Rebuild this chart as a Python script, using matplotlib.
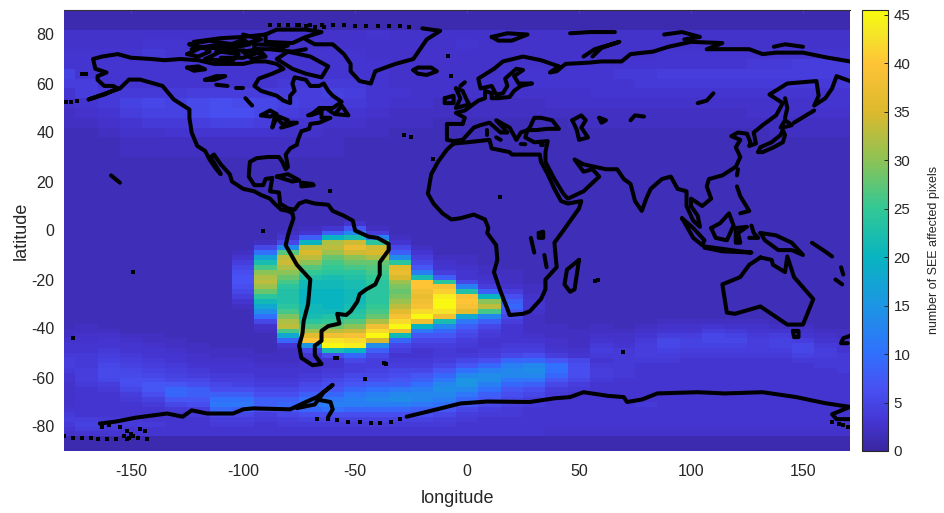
import numpy as np
import matplotlib
matplotlib.use('Agg')
import matplotlib.pyplot as plt
from matplotlib.colors import LinearSegmentedColormap

plt.rcParams['font.family'] = ['Liberation Sans', 'DejaVu Sans']
plt.rcParams['axes.unicode_minus'] = False

# longitude bin centres
lons = list(range(-180, 180, 10))

# north rows, edges in lat_edges_north
lat_edges_north = [90, 82, 78, 74, 70, 66, 62, 58, 54, 50, 46, 42, 38, 30, 18, 6]
north_cols = [
 [1,2.5,2.5,3,3,4.5,4,3,2.5,2,2,1.5,1.5,1.5,1.5],
 [1,2.5,2.5,3,3,3,4,4,3,2.5,2,1.5,1.5,1.5,1.5],
 [1,2.5,2.5,3,3,3,3,3.5,3.5,3,2.5,2,1.5,1.5,1.5],
 [1,2.5,2.5,3,3,3,3,3.5,4.5,4,3,2.5,2,1.5,1.5],
 [1,2.5,3,3.5,3,3,3,3.5,5,4.5,3.5,2.5,2,1.5,1.5],
 [1,2.5,3,3,3,3,3,3.5,4.5,4.5,3.5,3,2,1.5,1.5],
 [1,2.5,2.5,3,3,3,3,4,5.5,5.5,4,3,2,1.5,1.5],
 [1,2.5,2.5,3,3,3,3,4,6,6,4.5,3,2,1.5,1.5],
 [1,2.5,2.5,3,3,3,3,4,5.5,6,4.5,3,2,1.5,1.5],
 [1,2.5,2.5,3,3,3,3,4,5,5,4,3,2,1.5,1.5],
 [1,2.5,2.5,3,3,3,3.5,4,4.5,4,3,2.5,2,1.5,1.5],
 [1,2.5,2.5,3,3,3,3.5,4,4,3.5,3,2.5,2,1.5,1.5],
 [1,2.5,2.5,3,3,3,3.5,4.5,4,3,2.5,2,2,1.5,1.5],
 [1,2.5,2.5,3,3,3,3.5,4,3.5,3,2.5,2,1.5,1.5,1.5],
 [1,3,2.5,2.5,3,3,3,3,3,2.5,2,2,1.5,1.5,1.5],
 [1,2.5,2.5,2.5,2.5,2.5,2.5,3,2.5,2,2,1.5,1.5,1.5,1.5],
 [1,2.5,2.5,2.5,2.5,2.5,2.5,2.5,2.5,2,2,1.5,1.5,1.5,1.5],
 [1,2.5,2.5,2.5,2.5,2.5,2.5,2.5,2,2,1.5,1.5,1.5,1.5,1.5],
 [1,2.5,3,2.5,2.5,2.5,2.5,2.5,2,2,1.5,1.5,1.5,1.5,1.5],
 [1,2.5,2.5,2.5,2.5,2.5,2.5,2.5,2,2,1.5,1.5,1.5,1.5,1.5],
 [1,2.5,2.5,2.5,2.5,3,2.5,2.5,2,2,1.5,1.5,1.5,1.5,1.5],
 [1,2.5,2.5,2.5,2.5,3,3,2.5,2,2,1.5,1.5,1.5,1.5,1.5],
 [1,2.5,2.5,2.5,2.5,3,3,2.5,2.5,2,1.5,1.5,1.5,1.5,1.5],
 [1,2.5,2.5,2.5,3,3,3,2.5,2.5,2,2,1.5,1.5,1.5,1.5],
 [1,2.5,2.5,2.5,3,3,3,3,2.5,2,2,1.5,1.5,1.5,1.5],
 [1,2.5,2.5,2.5,3,3.5,3,3,2.5,2,2,1.5,1.5,1.5,1.5],
 [1,2.5,2.5,2.5,3,3.5,3.5,3,2.5,2,2,1.5,1.5,1.5,1.5],
 [1,2.5,2.5,3,3,4,3.5,3,2.5,2,2,1.5,1.5,1.5,1.5],
 [1,2.5,2.5,3,3,4,3.5,3,2.5,2,2,1.5,1.5,1.5,1.5],
 [1,2.5,2.5,3,3,4,3.5,3,2.5,2,2,1.5,1.5,1.5,1.5],
 [1,2.5,2.5,3,3,4,3.5,3,2.5,2,2,1.5,1.5,1.5,1.5],
 [1,2.5,2.5,3,3.5,4,3.5,3,2.5,2.5,2,1.5,1.5,1.5,1.5],
 [1,2.5,2.5,3,3.5,4,3.5,3,2.5,2.5,2,2,1.5,1.5,1.5],
 [1,2.5,2.5,3,4,4,3.5,3,2.5,2.5,2,2,1.5,1.5,1.5],
 [1,2.5,2.5,3,4,4,3.5,3,3,2.5,2,2,1.5,1.5,1.5],
 [1,2.5,2.5,3,4,4,3.5,3,3,2.5,2,2,1.5,1.5,1.5],
]

# south rows: 2 degree bins from lat 6 down to -84, one line per longitude
south_cols = [
 [1.5,1.5,1.5,1.5,1.5, 1.5,1.5,1.5,1.5,1.5, 1.5,1.5,1.5,1.5,1.5, 1.5,1.5,1.5,1.5,1.5, 1.5,1.5,1.5,2,2, 2.5,3,3,3.5,4, 4,3.5,3,3,2.5, 2.5,2.5,2.5,2.5,3, 3.5,4,3.5,3,2.5],
 [1.5,1.5,1.5,1.5,1.5, 1.5,1.5,1.5,1.5,1.5, 1.5,1.5,1.5,1.5,1.5, 1.5,1.5,1.5,1.5,1.5, 1.5,1.5,2,2,2.5, 2.5,3,3,3.5,3.5, 3.5,4,4,4,3.5, 3,3,3,3,3, 3,4,4.5,4,3],
 [1.5,1.5,1.5,1.5,1.5, 1.5,1.5,1.5,1.5,1.5, 1.5,1.5,1.5,1.5,1.5, 1.5,1.5,1.5,1.5,1.5, 1.5,1.5,1.5,2,2.5, 3,3,3.5,4,4.5, 5,5.5,5.5,5,4, 3.5,3,3,3,3, 3,3.5,4,3.5,3],
 [1.5,1.5,1.5,1.5,1.5, 1.5,1.5,1.5,1.5,1.5, 1.5,1.5,1.5,1.5,1.5, 1.5,1.5,1.5,1.5,1.5, 1.5,1.5,1.5,1.5,2, 2.5,3,3,3.5,4, 4.5,5,5.5,6,6, 5,4,3.5,3,3, 3,3.5,3.5,3,3],
 [1.5,1.5,1.5,1.5,1.5, 1.5,1.5,1.5,1.5,1.5, 1.5,1.5,1.5,1.5,1.5, 1.5,1.5,1.5,1.5,1.5, 1.5,1.5,1.5,1.5,2, 2,2.5,3,3,3.5, 4,4.5,5,6,7, 7,6,4.5,3.5,3, 3,3,3.5,3,3],
 [1.5,1.5,1.5,1.5,1.5, 1.5,1.5,1.5,1.5,1.5, 1.5,1.5,1.5,1.5,1.5, 1.5,1.5,1.5,1.5,1.5, 1.5,1.5,1.5,1.5,1.5, 2,2,2.5,3,3, 3.5,4,4.5,5,7, 9,9,7,5,3.5, 3,3,3,3,3],
 [1.5,1.5,1.5,1.5,1.5, 1.5,1.5,1.5,1.5,1.5, 1.5,1.5,1.5,1.5,1.5, 1.5,1.5,1.5,1.5,1.5, 1.5,1.5,1.5,1.5,1.5, 1.5,2,2,2.5,2.5, 3,3.5,4,5,6, 8,8,7,6,4, 3.5,3,3,3,3],
 [1.5,1.5,1.5,1.5,1.5, 1.5,1.5,1.5,1.5,1.5, 1.5,1.5,1.5,1.5,1.5, 1.5,1.5,1.5,1.5,1.5, 1.5,1.5,1.5,1.5,1.5, 1.5,1.5,2,2,2.5, 3,3,3.5,4,5, 6,8,10,11,9, 5,4,3.5,3,3],
 [1.5,1.5,1.5,1.5,1.5, 1.5,1.5,2,3,4, 5,6,6.5,6.5,6, 5,4,3,2,1.5, 1.5,1.5,1.5,1.5,1.5, 1.5,1.5,2,2,2.5, 3,3,3.5,4,4.5, 6,8,10,11,8, 5,4,3.5,3,3],
 [1.5,1.5,1.5,1.5,1.5, 2,5,10,17,22, 26,30,32,33,31, 28,24,21,18,14, 10,5,2.5,2,1.5, 1.5,1.5,1.5,2,2, 2.5,3,3,3.5,4, 5,6,8,8,6, 4,3.5,3,3,3],
 [1.5,1.5,1.5,2,3, 5,14,27,33,34, 32,30,28,26,24, 23,23,23,24,26, 29,32,33,26,18, 9,3,2,2,2, 2.5,3,3,3.5,4, 5,6,8,9,7, 5,4,3.5,3,3],
 [1.5,1.5,2,3,8, 20,33,35,33,30, 27,25,23,21,21, 20,20,20,21,21, 22,24,27,31,36, 40,15,5,3,2.5, 3,3,3.5,4,5, 6,8,10,11,9, 6,4.5,3.5,3,3],
 [1.5,1.5,3,8,20, 32,33,31,28,26, 25,24,22,21,21, 20,20,20,20,21, 23,25,28,33,38, 43,45,22,6,3, 3,3.5,4,5,6, 7,9,11,12,10, 6,4.5,3.5,3,3],
 [1.5,3,7,13,22, 34,37,34,30,28, 26,24,23,22,22, 21,21,21,22,23, 24,27,30,34,39, 42,44,20,9,5, 4,4,5,6,7, 9,11,12,12,9, 6,4.5,3.5,3,3],
 [1.5,1.5,2,4,12, 24,34,35,32,28, 27,26,25,24,24, 24,24,24,25,26, 28,32,38,42,45, 35,14,8,5,4, 4,4.5,5,6,8, 10,12,13,12,9, 6,4.5,3.5,3,3],
 [1.5,1.5,1.5,1.5,2, 3,5,8,14,24, 36,37,35,31,29, 28,29,31,33,36, 39,42,45,38,21, 9,5,4,3,3.5, 4,5,6,7,8, 11,13,14,12,9, 6,4.5,3.5,3,3],
 [1.5,1.5,1.5,1.5,1.5, 1.5,2,3,4,5, 7,12,22,40,40, 38,37,38,39,42, 45,38,20,11,7, 5,4,3,3,3.5, 4,5,7,8,10, 12,13,13,11,8, 6,4.5,3.5,3,3],
 [1.5,1.5,1.5,1.5,1.5, 1.5,1.5,1.5,2,2.5, 3,4,8,24,39, 41,44,45,45,43, 38,22,13,9,7, 5,4,3.5,3.5,4, 5,7,9,11,13, 14,13,12,10,7, 5,4,3.5,3,3],
 [1.5,1.5,1.5,1.5,1.5, 1.5,1.5,1.5,2,2, 2.5,3,3,5,12, 23,39,40,39,36, 18,11,8,6,5, 4,3.5,3,3.5,5, 7,10,13,15,15, 13,11,9,7,5, 4,3.5,3,3,3],
 [1.5,1.5,1.5,1.5,1.5, 1.5,1.5,1.5,1.5,1.5, 2,2,2.5,3,4, 8,20,30,33,26, 13,8,5,4,3.5, 3,3,3.5,4,6, 9,12,14,14,12, 10,8,7,5,4, 3.5,3,3,3,3],
 [1.5,1.5,1.5,1.5,1.5, 1.5,1.5,1.5,1.5,1.5, 1.5,2,2,2,2.5, 4,6,8,9,7, 5,4,3,3,3, 3,3.5,4,5,9, 12,13,13,11,9, 7,6,5,4,3.5, 3.5,3,3,3,3],
 [1.5,1.5,1.5,1.5,1.5, 1.5,1.5,1.5,1.5,1.5, 1.5,1.5,1.5,1.5,2, 2,2.5,3,3,2.5, 2,2,2,2,2.5, 3,3.5,4,6,9, 13,14,13,11,8, 6,5,4,3.5,3, 3,3,3,3,3],
 [1.5,1.5,1.5,1.5,1.5, 1.5,1.5,1.5,1.5,1.5, 1.5,1.5,1.5,1.5,1.5, 1.5,1.5,1.5,1.5,1.5, 1.5,1.5,2,2,2, 2.5,2.5,3,4,7, 10,10,9,7,5, 4,3.5,3,3,3, 3,3,3,2.5,2.5],
 [1.5,1.5,1.5,1.5,1.5, 1.5,1.5,1.5,1.5,1.5, 1.5,1.5,1.5,1.5,1.5, 1.5,1.5,1.5,1.5,1.5, 1.5,1.5,1.5,2,2, 2,2,2.5,3,5, 6,6,6,5,4, 3.5,3,3,3,3, 3,3,3,2.5,2.5],
 [1.5,1.5,1.5,1.5,1.5, 1.5,1.5,1.5,1.5,1.5, 1.5,1.5,1.5,1.5,1.5, 1.5,1.5,1.5,1.5,1.5, 1.5,1.5,2,2,2.5, 3,3.5,4,3.5,3, 3.5,4,4,3.5,3, 3,3,3,3,3, 3,3,3,2.5,2.5],
 [1.5,1.5,1.5,1.5,1.5, 1.5,1.5,1.5,1.5,1.5, 1.5,1.5,1.5,1.5,1.5, 1.5,1.5,1.5,1.5,1.5, 1.5,1.5,1.5,2,2.5, 2.5,3,3.5,3.5,3.5, 3.5,3.5,3.5,3,3, 3,3,3,3,3, 3,3,3,2.5,2.5],
 [1.5,1.5,1.5,1.5,1.5, 1.5,1.5,1.5,1.5,1.5, 1.5,1.5,1.5,1.5,1.5, 1.5,1.5,1.5,1.5,1.5, 1.5,1.5,2,2.5,3, 3.5,4,4,4,3.5, 3,3,3,3,3, 3,3,3,3.5,3, 3,3,3,2.5,2.5],
 [1.5,1.5,1.5,1.5,1.5, 1.5,1.5,1.5,1.5,1.5, 1.5,1.5,1.5,1.5,1.5, 1.5,1.5,1.5,1.5,1.5, 1.5,2,2.5,3,4, 5,5,4.5,4,3.5, 3,3,3,3,3, 3,3,3,3,3, 3,3,3,2.5,2.5],
 [1.5,1.5,1.5,1.5,1.5, 1.5,1.5,1.5,1.5,1.5, 1.5,1.5,1.5,1.5,1.5, 1.5,1.5,1.5,1.5,1.5, 1.5,2,2.5,3,4, 4.5,4.5,4,3.5,3, 3,3,3,3,3, 3,3,3,3,3, 3,3,3,2.5,2.5],
 [1.5,1.5,1.5,1.5,1.5, 1.5,1.5,1.5,1.5,1.5, 1.5,1.5,1.5,1.5,1.5, 1.5,1.5,1.5,1.5,1.5, 1.5,2,3,4,5, 5,4.5,4,3.5,3, 3,3,3,3,3, 3,3,3,3,3, 3,3,3,2.5,2.5],
 [1.5,1.5,1.5,1.5,1.5, 1.5,1.5,1.5,1.5,1.5, 1.5,1.5,1.5,1.5,1.5, 1.5,1.5,1.5,1.5,1.5, 1.5,2,2.5,3.5,4.5, 5,4.5,4,3.5,3, 3,3,3,3,3, 3,3,3,3,3, 3,3,3,2.5,2.5],
 [1.5,1.5,1.5,1.5,1.5, 1.5,1.5,1.5,1.5,1.5, 1.5,1.5,1.5,1.5,1.5, 1.5,1.5,1.5,1.5,1.5, 1.5,2,2.5,3,3.5, 4,4,4,3.5,3, 3,3,3,3,3, 3,3,3,3,3, 3,3,3,2.5,2.5],
 [1.5,1.5,1.5,1.5,1.5, 1.5,1.5,1.5,1.5,1.5, 1.5,1.5,1.5,1.5,1.5, 1.5,1.5,1.5,1.5,1.5, 1.5,1.5,2,3,4, 4.5,4.5,4,3.5,3, 3,3,3,3,3, 3,3,3,3,3, 3,3,3,2.5,2.5],
 [1.5,1.5,1.5,1.5,1.5, 1.5,1.5,1.5,1.5,1.5, 1.5,1.5,1.5,1.5,1.5, 1.5,1.5,1.5,1.5,1.5, 1.5,1.5,2,2.5,3, 4,5,5,4.5,3.5, 3,3,3,3,3, 3,3,3,3,3, 3,3,3,2.5,2.5],
 [1.5,1.5,1.5,1.5,1.5, 1.5,1.5,1.5,1.5,1.5, 1.5,1.5,1.5,1.5,1.5, 1.5,1.5,1.5,1.5,1.5, 1.5,1.5,1.5,2,2.5, 3,3.5,4,4,3.5, 3.5,3,3,3,3, 3,3,3,3,3, 3,3,3,2.5,2.5],
 [1.5,1.5,1.5,1.5,1.5, 1.5,1.5,1.5,1.5,1.5, 1.5,1.5,1.5,1.5,1.5, 1.5,1.5,1.5,1.5,1.5, 1.5,1.5,1.5,2,2, 2.5,3,3,3.5,3.5, 3.5,3.5,3,3,3, 3,3,3,3,3, 3,3,3,2.5,2.5],
]

# coastlines as lon/lat pairs
americas = [(-169,53.5),(-162,55.5),(-156,58),(-158,59),(-162,59),(-165,61.5),(-165,63),(-161,64.5),(-166,66),(-167,70),(-163,71),(-156,72),(-150,70.5),(-141,70),(-135,69.5),(-128,70),(-120,69.5),(-113,68),(-108,68),(-100,68),(-95,69),(-90,69),(-85,68),(-82,66),(-87,64),(-93,62),(-95,59),(-92,57),(-85,55),(-82,53),(-79,52),(-79,55),(-77,57),(-78,60),(-77,62.5),(-72,61.5),(-70,59),(-66,59),(-64,60),(-62,57),(-60,55),(-56,52.5),(-60,50),(-66,50),(-70,47),(-65,48.5),(-65,46),(-61,46),(-66,44),(-70,43.5),(-70.5,41.5),(-74,40.5),(-75.5,37),(-76,35),(-79,33.5),(-81,31),(-80,26),(-81,25),(-82.5,28),(-84,30),(-89,30),(-94,29.5),(-97,28),(-97.5,22),(-95,18.5),(-91,18.5),(-90,21),(-87,21.5),(-88,16),(-84,15.5),(-83.5,11),(-80,9),(-77,8.5),(-75,11),(-72,12),(-68,11),(-62,10.5),(-60,8),(-55,6),(-51,4),(-50,0),(-44,-2.5),(-40,-3),(-35,-5.5),(-35,-8),(-39,-13),(-39,-18),(-41,-22),(-45,-24),(-48,-26),(-49,-29),(-52,-33),(-54,-34.5),(-58,-34),(-57,-38),(-62,-39),(-65,-41),(-65,-45),(-68,-47),(-68,-51),(-65,-54.5),(-69,-55),(-74,-52),(-75,-47),(-73.5,-42),(-73,-37),(-71,-30),(-70,-20),(-76,-14),(-81,-6),(-80,-2),(-79,1),(-77.5,5),(-78,7),(-80,8),(-83,8.5),(-86,11),(-88,13),(-92,14.5),(-95,16),(-100,17),(-105,20),(-106,23),(-110,27),(-113,31),(-114.5,30),(-110,23),(-112,25),(-115,29),(-117,32.5),(-120.5,34.5),(-123,40),(-124,46),(-124,49.4),(-131,53.5),(-136,59),(-146,61.6),(-151,61.6),(-155,58),(-169,53.5)]
greenland = [(-72,78),(-68,76),(-60,76),(-55,72),(-52,68),(-52,65),(-48,61),(-43,60),(-41,65),(-32,68),(-24,70),(-21,74),(-18,78),(-12,81.5),(-20,82.5)]
iceland = [(-24,65.5),(-22,66.5),(-16,66.5),(-13.5,65),(-18,63.5),(-22,64),(-24,65.5)]
baffin = [(-80,73),(-70,71),(-62,67),(-65,62.5),(-72,64),(-78,66),(-85,70),(-80,73)]
banks = [(-125,72),(-118,75),(-115,73),(-120,71),(-125,72)]
victoria = [(-117,70),(-105,69),(-102,72),(-110,73),(-117,70)]
ellesmere = [(-90,80),(-85,82),(-72,82),(-65,81),(-72,79),(-78,76.5),(-90,77),(-90,80)]
devon = [(-95,76),(-80,75.5),(-85,74),(-95,74),(-95,76)]
parry = [(-124,76),(-115,77.5),(-105,76),(-100,78),(-97,76),(-105,74.5),(-118,74.5),(-124,76)]
somerset = [(-100,73),(-93,74),(-90,71),(-96,70),(-100,73)]
arctic_a = [(-123,74),(-110,76),(-98,76.5),(-92,78),(-100,80)]
arctic_b = [(-122,77),(-110,78.5),(-100,79),(-90,80)]
arctic_c = [(-112,73),(-100,73.5),(-92,72)]
arctic_d = [(-88,74),(-78,73),(-72,74)]
arctic_e = [(-110,70.5),(-100,70.5),(-95,72)]
bear_lake = [(-125,66.5),(-120,67),(-117,65.8),(-122,65.2),(-125,66.5)]
slave_lake = [(-117,61.5),(-112,63),(-108,63),(-113,61.5),(-117,61.5)]
athabasca = [(-112,59.5),(-107,59)]
reindeer = [(-103,58),(-100,58)]
winnipeg = [(-99,54),(-97,52),(-96,51)]
superior = [(-92,47),(-88,49),(-85,47.5),(-88,46.5),(-92,47)]
michigan = [(-86,46),(-87,42),(-86,44),(-85,46)]
huron = [(-84,46.5),(-80,45),(-82,43),(-84,45)]
erie = [(-83,42),(-79,43),(-76,44),(-79,44)]
newfoundland = [(-59,47.5),(-56,51),(-53,47),(-59,47.5)]
gulf_land = [(-71,47),(-63,50),(-60,48)]
cuba = [(-85,22),(-80,23),(-75,20.5),(-78,20),(-85,22)]
hispaniola = [(-74,19.5),(-69,19),(-68.5,18.5),(-74,18),(-74,19.5)]
hawaii = [(-159,22.5),(-157,21),(-155,19.5)]
africa = [(-6,35.5),(-9,33),(-13,28),(-16,23),(-17.5,15),(-15,11),(-11,7),(-7,4.5),(-3,5),(3,6.5),(8,4.5),(9.5,1),(9,-1),(13,-6),(13.5,-12),(12,-17),(15,-25),(18,-32),(19,-34.5),(25,-34),(28,-33),(33,-28),(35,-24),(35,-20),(40,-15),(39,-5),(43,0),(50,9),(51,12),(45,11),(42,12),(39,17),(36,23),(33,28),(32.5,31),(28,31),(20,31),(19,32),(11,33.5),(10,37),(0,36),(-6,35.5)]
eurasia = [(-2,43.5),(-9,43.5),(-9,37),(-6,36.5),(-2,37),(0,39),(3,42),(6,43),(10,44),(15,40),(18,40),(16,42),(13,45),(19,42),(22,37),(24,40),(27,41),(26,38),(30,36),(36,36.5),(35,32),(35,28),(39,21),(43,15),(45,13),(52,16),(59,22),(56,25),(52,24),(48,29),(52,27),(57,26),(62,25),(67,25),(70,21),(73,19),(75,12),(78,8),(80,13),(82,17),(87,21),(91,22),(94,17),(98,16),(98,10),(101,4),(104,1.5),(103,6),(100,10),(100,13),(105,10),(109,13),(107,18),(108,21),(114,22.5),(120,26),(122,30),(120,34),(122,37),(118,38.5),(121,40),(125,39.5),(126.5,36),(126,34.5),(129,35.5),(128,40),(132,43),(138,47),(141,52),(135,55.5),(143,60),(156,61),(157,55),(155,51),(160,54),(163,58),(165,63),(171,61)]
europe_north = [(-2,43.5),(-1,46),(-5,48),(-1,49),(2,51),(5,53),(8,54),(8,57),(11,56),(11,54),(14,54),(19,54.5),(21,57),(24,59),(29,60),(23,60),(21,63),(25,65.5),(22,66),(17,62),(18,59),(16,56),(13,55.5),(11,59),(6,58),(5,62),(12,66),(16,69),(25,71),(33,69.5),(41,67),(37,64.5),(40,65),(44,68),(54,68.5),(60,69),(69,69),(73,72),(83,73),(90,75),(100,77),(114,76.5),(107,74),(126,74),(132,72),(138,72.6),(150,72.6),(160.7,70.6),(171,69)]
black_sea = [(27,41),(31,41),(36,41.5),(41,41.5),(38,45),(33,46),(30,46),(28,42),(27,41)]
caspian = [(47,45),(51,47),(53,45),(51,42),(54,38),(50,37),(49,41),(47,45)]
aral = [(59,46),(62,45),(60,44),(59,46)]
balkhash = [(73,45),(75,47),(79,46.5)]
baikal = [(103,52),(107,53),(110,56)]
uk = [(-5,58),(-2,57),(0,53),(1,51.5),(-5,50),(-3,54),(-5,58)]
ireland = [(-10,54),(-6,55),(-6,52),(-10,52),(-10,54)]
shetland = [(-3,59),(-1,60.5)]
sardinia = [(9,41),(9,39)]
sicily = [(13,38),(15,37)]
crete = [(24,35.3),(26,35.2)]
cyprus = [(33,35),(34,35)]
svalbard = [(11,79),(18,80.5),(27,80),(20,77.5),(14,77.5),(11,79)]
novaya = [(52,71),(57,74),(68,77),(60,74.5),(56,71)]
franz = [(46,80.5),(55,81),(66,81)]
sev_zemlya = [(88,80),(96,81),(104,79),(97,78)]
new_sib = [(137,75),(142,76),(150,75)]
madagascar = [(50,-12),(44.6,-16),(43.5,-22),(46,-25),(48,-24),(50,-12)]
japan = [(130,32),(131,34),(136,36),(140,39),(141,41),(142,39),(141,36),(137,34),(132,32),(130,32)]
hokkaido = [(140,42),(142,45),(145,43),(141,42)]
sakhalin = [(142,54),(143,50),(142,46)]
kuril = [(146,44),(155,49)]
philippines = [(120.5,18),(122,14),(124,11),(126,8),(122,7)]
taiwan = [(121,25),(120.5,22.5)]
sumatra = [(96,5),(101,1),(106,-4),(105,-6),(101,-3),(96,5)]
java = [(106,-6.5),(114,-7.5),(122,-8.5),(127,-9),(114,-8.5),(106,-7)]
borneo = [(109,1),(113,3),(117,7),(119,2),(116,-4),(111,-3),(109,1)]
sulawesi = [(120,1),(125,1.5),(121,-1),(122,-5),(120,-5),(120,1)]
moluccas = [(127,2),(128,-1),(130,-3),(126,-3)]
new_guinea = [(131,-1),(138,-2),(145,-5),(150,-10),(145,-8),(139,-8),(133,-4),(131,-1)]
solomon = [(154,-5),(159,-8),(163,-10.6)]
vanuatu = [(167,-15),(168,-18)]
new_cal = [(164.5,-20),(167.5,-22)]
nz = [(171,-43),(168,-44),(167,-46),(170,-46)]
australia = [(131,-11),(126,-14),(122,-19),(114,-22),(116,-33.5),(119.6,-34),(131,-31),(137.5,-35),(143,-38.4),(150,-38.4),(154.6,-28),(146,-19),(143,-10.6),(142,-17),(136.6,-14),(136,-12),(131,-11)]
tasmania = [(145.5,-41),(148,-41),(148,-43.5),(146,-43.5),(145.5,-41)]
lake_victoria = [(32,-1),(34,-0.5),(34,-3),(32,-3),(32,-1)]
tanganyika = [(28.5,-3),(30,-9)]
malawi = [(34.5,-10),(35.5,-15)]
antarctica_west = [(-164,-78.8),(-157,-78),(-148,-76.4),(-134,-74.7),(-127,-76),(-123,-73.4),(-116,-74.7),(-104.5,-74.7),(-100,-73),(-95.5,-72.6),(-79,-73),(-72,-70),(-67,-68),(-60,-63),(-64,-66),(-68,-71),(-76,-72.5)]
antarctica_ronne = [(-67,-69),(-61,-70),(-60,-73),(-62,-76)]
antarctica_east = [(-27,-76),(-13.5,-73),(-3,-70.6),(9,-69.8),(28,-70),(39,-68.5),(46,-68),(52,-66),(63,-67.5),(70,-68),(71.4,-70),(78,-69),(85,-66.5),(103,-66),(115,-66.5),(132,-66),(147,-68),(160,-70.5),(171,-72)]
ross_west = [(171,-72),(163,-75),(165,-77),(171,-77)]
coast_lines = [americas, greenland, iceland, baffin, banks, victoria, ellesmere, devon, parry, somerset,
               arctic_a, arctic_b, arctic_c, arctic_d, arctic_e,
               bear_lake, slave_lake, athabasca, reindeer, winnipeg, superior, michigan, huron, erie,
               newfoundland, gulf_land, cuba, hispaniola, hawaii, africa, eurasia, europe_north, black_sea,
               caspian, aral, balkhash, baikal, uk, ireland, shetland, sardinia, sicily, crete, cyprus,
               svalbard, novaya, franz, sev_zemlya, new_sib,
               madagascar, japan, hokkaido, sakhalin, kuril, philippines, taiwan, sumatra, java, borneo,
               sulawesi, moluccas, new_guinea, solomon, vanuatu, new_cal, nz, australia, tasmania, lake_victoria,
               tanganyika, malawi, antarctica_west, antarctica_ronne, antarctica_east, ross_west]

# sparse coastal points, small islands and the dotted polar stretches
dots_lon = [-179,-177,-174,-172,-170,-91,-149,-176,-59,-58,-37,-36,-45.6,-28,-25,-15,-61,-8.5,-7,14.7,69.6,57,58.5,
            -180,-176,-172,-168,-165,-161,-157,-152,-147,-143,-67,-62,-58,-53,-48,-43,-39,-34,-30,
            -163,-160,-155,-152,-150,-146,-144,-153,-151,-149,
            -88,-84,-80,-76,-72,-68,-64,-75,-70,-65,-60,-55,-50,-45,-40,-35,-30,-26,
            163,166,168,170]
dots_lat = [52.6,52.6,53,64,64,-0.4,-17,-43.7,-52,-52,-54,-54.5,-60.5,39,38,29,16,71.4,63,13.8,-49.5,-20.5,-20,
            -84,-84.5,-84.5,-84.5,-85,-85,-85,-85,-84.5,-85,-77,-77,-77.5,-78,-78,-78.5,-78.4,-78,-77,
            -80,-79.5,-80,-82,-83,-81,-82,-84,-84.5,-84,
            84,84,84,84,83.5,83,83,84,84,84,84,84,83.5,83.5,83.5,83.5,83.5,83,
            -78,-79,-79.5,-80]

parula_points = [(0.0,(58,38,160)),(0.07,(69,55,213)),(0.143,(72,82,244)),(0.22,(48,112,252)),
                 (0.33,(28,150,228)),(0.44,(8,180,192)),(0.55,(50,200,150)),
                 (0.66,(140,195,85)),(0.77,(220,185,45)),(0.88,(254,195,55)),(0.95,(245,230,40)),(1.0,(249,251,14))]
parula = LinearSegmentedColormap.from_list('parula', [(t, tuple(c/255 for c in col)) for t, col in parula_points], N=256)

# 10 degree columns, first and last are cut by the x limits
lon_edges = np.array(lons + [180]) - 5
lat_edges = np.array(lat_edges_north[:-1] + list(range(6, -85, -2)) + [-90])
z = np.concatenate([np.array(north_cols), np.array(south_cols), np.ones((36, 1))], axis=1).T

fig = plt.figure(figsize=(9.45, 5.13), dpi=100)
ax = fig.add_axes([64/945, 1-451/513, 786/945, 441/513])
mesh = ax.pcolormesh(lon_edges, lat_edges, z, cmap=parula, vmin=0, vmax=45.5, shading='flat')
for seg in coast_lines:
    xs, ys = zip(*seg)
    ax.plot(xs, ys, color='k', lw=2.9, solid_joinstyle='round', solid_capstyle='round')
ax.plot(dots_lon, dots_lat, ls='none', marker='s', color='k', ms=2.8, mew=0)

ax.set_xlim(-180, 171)
ax.set_ylim(-90, 90)
ax.set_xticks([-150, -100, -50, 0, 50, 100, 150])
ax.set_yticks([-80, -60, -40, -20, 0, 20, 40, 60, 80])
ax.tick_params(axis='x', labelsize=11.5, labelcolor='#262626', color='#555555', top=True, bottom=False, direction='in', length=2, width=0.6, pad=9)
ax.tick_params(axis='y', labelsize=11.5, labelcolor='#262626', length=0, pad=7)
for s in ['left', 'right', 'bottom']:
    ax.spines[s].set_visible(False)
ax.spines['top'].set_color('#333333')
ax.spines['top'].set_linewidth(0.8)
ax.set_xlabel('longitude', fontsize=13, color='#262626', labelpad=8)
ax.set_ylabel('latitude', fontsize=13, color='#262626', labelpad=1)

cax = fig.add_axes([862/945, 1-451/513, 26/945, 441/513])
cb = fig.colorbar(mesh, cax=cax)
cb.set_ticks([0, 5, 10, 15, 20, 25, 30, 35, 40, 45])
cb.ax.tick_params(labelsize=10.8, colors='#262626', length=3, width=0.7, direction='in', pad=4)
cb.outline.set_edgecolor('#262626')
cb.outline.set_linewidth(0.8)
cb.set_label('number of SEE affected pixels', fontsize=9, color='#262626')
cb.ax.yaxis.set_label_coords(2.55, 0.455)

fig.savefig('out.png', dpi=100)
